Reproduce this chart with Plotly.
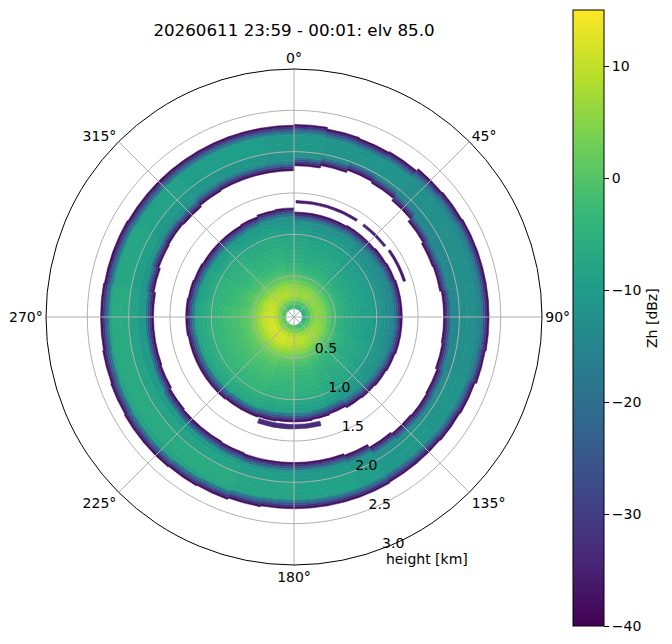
import numpy as np
import plotly.graph_objects as go
from plotly.colors import sample_colorscale

# 10-degree azimuth sectors (centre, deg clockwise from north)
sector_deg = list(range(5, 360, 10))

# outer edge of the inner echo disk, per sector [km]
disk_edge_km = [1.27, 1.27, 1.27, 1.28, 1.28, 1.29, 1.30, 1.31, 1.31, 1.31, 1.31, 1.30,
                1.29, 1.28, 1.27, 1.25, 1.26, 1.27, 1.27, 1.28, 1.29, 1.29, 1.30, 1.30,
                1.30, 1.30, 1.31, 1.31, 1.30, 1.29, 1.28, 1.28, 1.28, 1.29, 1.31, 1.32]
# inner / outer edge of the upper echo ring, per sector [km]
ring_in_km = [1.83, 1.86, 1.89, 1.87, 1.84, 1.80, 1.78, 1.79, 1.81, 1.81, 1.82, 1.84,
              1.85, 1.84, 1.82, 1.78, 1.76, 1.76, 1.76, 1.76, 1.75, 1.74, 1.74, 1.73,
              1.71, 1.70, 1.70, 1.70, 1.72, 1.74, 1.75, 1.74, 1.76, 1.77, 1.77, 1.77]
ring_out_km = [2.33, 2.31, 2.30, 2.31, 2.34, 2.35, 2.36, 2.36, 2.36, 2.36, 2.35, 2.33,
               2.32, 2.31, 2.31, 2.32, 2.32, 2.32, 2.32, 2.33, 2.35, 2.36, 2.37, 2.37,
               2.36, 2.35, 2.34, 2.34, 2.33, 2.33, 2.32, 2.32, 2.32, 2.32, 2.32, 2.32]
# east side is weaker (more teal), west side stronger (greener)
sector_shift_db = [-2, -3, -3, -3, -4, -4, -4, -4, -4, -4, -4, -3, -3, -2, -2, -1, 0, 0,
                   1, 1, 2, 2, 2, 2, 2, 2, 2, 2, 1, 1, 0, 0, -1, -1, -1, -2]

# inner disk radial profile (gate boundaries and Zh per gate)
disk_r_km = [0.10, 0.15, 0.20, 0.25, 0.30, 0.35, 0.40, 0.45, 0.50, 0.55, 0.60, 0.65, 0.70,
             0.75, 0.80, 0.85, 0.90, 0.95, 1.00, 1.05, 1.10, 1.15, 1.20, 1.25, 1.30, 1.35]
disk_zh = [-1, 3, 7.5, 9.5, 9, 7.5, 5, 2.5, 0.5, -1, -2, -3, -3.5, -4, -4.5, -5, -5.5, -6,
           -7, -8, -9, -10, -11, -12, -13]

# upper ring radial profile
ring_r_km = [1.70, 1.80, 1.90, 2.00, 2.10, 2.20, 2.30, 2.40]
ring_zh = [-14, -12, -10, -8.5, -8.5, -10, -13]

# echo edges: Zh from the edge inward, 0.025 km steps
edge_zh = [-38, -32, -25, -19]
edge_step_km = 0.025

# thin isolated arcs
arc_from_deg = [1, 37, 55, 166]
arc_to_deg = [33, 52, 72, 199]
arc_base_km = [1.38, 1.38, 1.39, 1.30]
arc_top_km = [1.41, 1.41, 1.42, 1.355]
arc_zh = [-36, -34, -36, -33]

zh_min, zh_max = -40, 15
r_ticks = [0.5, 1.0, 1.5, 2.0, 2.5, 3.0]
theta_ticks = [0, 45, 90, 135, 180, 225, 270, 315]
cbar_ticks = [-40, -30, -20, -10, 0, 10]
r_label_inset_km = 0.09   # matplotlib draws the radial labels just inside their circle

theta, base, length, zh, width = [], [], [], [], []


def add(th, r0, r1, v, w=10):
    if r1 - r0 > 1e-6:
        theta.append(th)
        base.append(r0)
        length.append(r1 - r0)
        zh.append(v)
        width.append(w)


band = edge_step_km * len(edge_zh)
for k, az in enumerate(sector_deg):
    sh = sector_shift_db[k]
    # inner disk
    e = disk_edge_km[k]
    for i in range(len(disk_zh)):
        add(az, disk_r_km[i], min(disk_r_km[i + 1], e - band), disk_zh[i] + sh)
    for j, v in enumerate(edge_zh):
        add(az, e - edge_step_km * (j + 1), e - edge_step_km * j, v)
    # ring
    a, b = ring_in_km[k], ring_out_km[k]
    for j, v in enumerate(edge_zh):
        add(az, a + edge_step_km * j, a + edge_step_km * (j + 1), v)
    for i in range(len(ring_zh)):
        add(az, max(ring_r_km[i], a + band), min(ring_r_km[i + 1], b - band), ring_zh[i] + sh)
    for j, v in enumerate(edge_zh):
        add(az, b - edge_step_km * (j + 1), b - edge_step_km * j, v)

for i in range(len(arc_zh)):
    add((arc_from_deg[i] + arc_to_deg[i]) / 2, arc_base_km[i], arc_top_km[i], arc_zh[i],
        arc_to_deg[i] - arc_from_deg[i])

# outline each cell in its own colour so no seams show between cells
norm = [min(max((v - zh_min) / (zh_max - zh_min), 0), 1) for v in zh]
cell_colors = sample_colorscale("Viridis", norm)

# page pixels -> paper fractions (the page body adds an 8 px margin)
W, H, PAD = 672, 644, 8


def px(x):
    return (x - PAD) / W


def py(y):
    return 1 - (y - PAD) / H


fig = go.Figure()
fig.add_trace(go.Barpolar(
    theta=theta, base=base, r=length, width=width,
    marker=dict(
        color=zh, colorscale="Viridis", cmin=zh_min, cmax=zh_max,
        line=dict(width=0.6, color=cell_colors),
        colorbar=dict(
            x=px(573), xanchor="left", xpad=0, y=py(626), yanchor="bottom", ypad=0,
            len=616 / H, lenmode="fraction", thickness=31,
            outlinewidth=1, outlinecolor="black",
            tickvals=cbar_ticks, ticks="outside", ticklen=5,
            tickcolor="black", tickfont=dict(size=14, color="black"),
        ),
    ),
    opacity=1, hoverinfo="skip", showlegend=False,
))

# grid drawn on top of the echoes
circle_theta = np.arange(0, 361, 2)
for rt in r_ticks[:-1]:
    fig.add_trace(go.Scatterpolar(r=[rt] * len(circle_theta), theta=circle_theta, mode="lines",
                                  line=dict(color="#b0b0b0", width=1), hoverinfo="skip",
                                  showlegend=False))
for tt in theta_ticks:
    fig.add_trace(go.Scatterpolar(r=[0, r_ticks[-1]], theta=[tt, tt], mode="lines",
                                  line=dict(color="#b0b0b0", width=1), hoverinfo="skip",
                                  showlegend=False))

fig.update_layout(
    width=W, height=H, autosize=False,
    margin=dict(l=0, r=0, t=0, b=0, autoexpand=False),
    paper_bgcolor="white",
    font=dict(family="DejaVu Sans", color="black"),
    title=dict(text="20260611 23:59 - 00:01: elv 85.0", x=px(294), xanchor="center",
               y=py(30), yanchor="middle", font=dict(size=16.7)),
    polar=dict(
        domain=dict(x=[px(46), px(542)], y=[py(565), py(69)]),
        bgcolor="white",
        angularaxis=dict(rotation=90, direction="clockwise", tickmode="array",
                         tickvals=theta_ticks, ticktext=[f"{t}°" for t in theta_ticks],
                         ticks="", showgrid=False, showline=True,
                         linecolor="black", linewidth=1, tickfont=dict(size=14)),
        radialaxis=dict(range=[0, 3.0], tickmode="array",
                        tickvals=[r - r_label_inset_km for r in r_ticks],
                        ticktext=[f"{r:.1f}" for r in r_ticks],
                        showgrid=False, showline=False, ticks="", angle=-71,
                        side="counterclockwise", tickangle=-71, tickfont=dict(size=14)),
    ),
    annotations=[
        dict(text="height [km]", x=px(427), y=py(569), xref="paper",
             yref="paper", showarrow=False, font=dict(size=14)),
        dict(text="Zh [dBz]", x=px(662), y=py(318), xref="paper", yref="paper",
             textangle=-90, showarrow=False, font=dict(size=14)),
    ],
)

fig.write_html("out.html")
